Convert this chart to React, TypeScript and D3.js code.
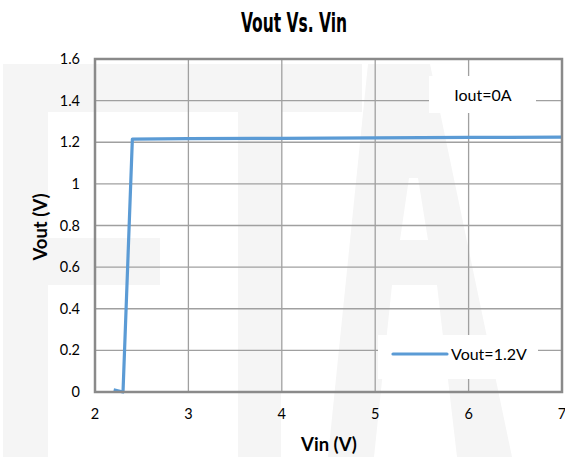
import React from "react";
import * as d3 from "d3";

const vinValues = [2.2, 2.3, 2.4, 3, 4, 5, 6, 7];
const voutValues = [0.01, 0, 1.215, 1.217, 1.219, 1.221, 1.223, 1.225];
const xTicks = [2, 3, 4, 5, 6, 7];
const yTicks = [0, 0.2, 0.4, 0.6, 0.8, 1, 1.2, 1.4, 1.6];
const title = "Vout Vs. Vin";
const xLabel = "Vin (V)";
const yLabel = "Vout (V)";
const seriesName = "Vout=1.2V";
const note = "Iout=0A";

const W = 565;
const H = 457;
const L = 95, R = 562, T = 59, B = 392;
const font = "Lato, 'Open Sans', sans-serif";
const wm = "#f5f5f5";

export default function App() {
  const x = d3.scaleLinear().domain([2, 7]).range([L, R]);
  const y = d3.scaleLinear().domain([0, 1.6]).range([B, T]);
  const pts = vinValues.map((v, i) => [v, voutValues[i]] as [number, number]);
  const line = d3.line<[number, number]>().x(d => x(d[0])).y(d => y(d[1]));

  return (
    <svg width={W} height={H} style={{ position: "absolute", left: 0, top: 0 }}>
      <rect x={0} y={0} width={W} height={H} fill="#fff" />
      {/* watermark FTA */}
      <path d="M3,64 H362 V112 H281 V457 H238 V112 H48 V238 H160 V285 H48 V457 H3 Z" fill={wm} />
      <path d="M328,457 L368,64 H430 L512,457 H457 L437,285 H392 L374,457 Z M400,240 H428 L418,178 H409 Z" fill={wm} fillRule="evenodd" />
      {/* grid */}
      {yTicks.map(t => (
        <line key={"gy" + t} x1={L} x2={R} y1={y(t)} y2={y(t)} stroke="#a0a0a0" strokeWidth={1.3} />
      ))}
      {xTicks.map(t => (
        <line key={"gx" + t} x1={x(t)} x2={x(t)} y1={T} y2={B} stroke="#a0a0a0" strokeWidth={1.3} />
      ))}
      {/* annotation box */}
      <rect x={429} y={76} width={107} height={37} fill="#fff" />
      <text x={483} y={101} textAnchor="middle" fontFamily={font} fontSize={16} fill="#000">{note}</text>
      {/* legend box */}
      <rect x={378} y={335} width={160} height={44} fill="#fff" />
      {/* series */}
      <path d={line(pts) || ""} fill="none" stroke="#5b9bd5" strokeWidth={3.2} strokeLinejoin="round" />
      <line x1={393} x2={447} y1={354} y2={354} stroke="#5b9bd5" strokeWidth={3.2} strokeLinecap="round" />
      <text x={451} y={360} fontFamily={font} fontSize={16} fill="#000">{seriesName}</text>
      {/* border */}
      <rect x={L} y={T} width={R - L} height={B - T} fill="none" stroke="#8a8a8a" strokeWidth={2.5} />
      {/* ticks */}
      {yTicks.map(t => (
        <text key={"ty" + t} x={80} y={y(t) + 5} textAnchor="end" fontFamily={font} fontSize={14.5} fill="#000">{d3.format("~g")(t)}</text>
      ))}
      {xTicks.map(t => (
        <text key={"tx" + t} x={x(t)} y={419} textAnchor="middle" fontFamily={font} fontSize={14.5} fill="#000">{t}</text>
      ))}
      <text x={329} y={451} textAnchor="middle" fontFamily={font} fontWeight="bold" fontSize={18.5} fill="#000">{xLabel}</text>
      <text transform="translate(47,227) rotate(-90)" textAnchor="middle" fontFamily={font} fontWeight="bold" fontSize={18.5} fill="#000">{yLabel}</text>
      <text x={294} y={32} textAnchor="middle" fontFamily="'DejaVu Sans Condensed', 'DejaVu Sans', sans-serif" fontWeight="bold" fontSize={26} textLength={106} lengthAdjust="spacingAndGlyphs" fill="#000">{title}</text>
    </svg>
  );
}
